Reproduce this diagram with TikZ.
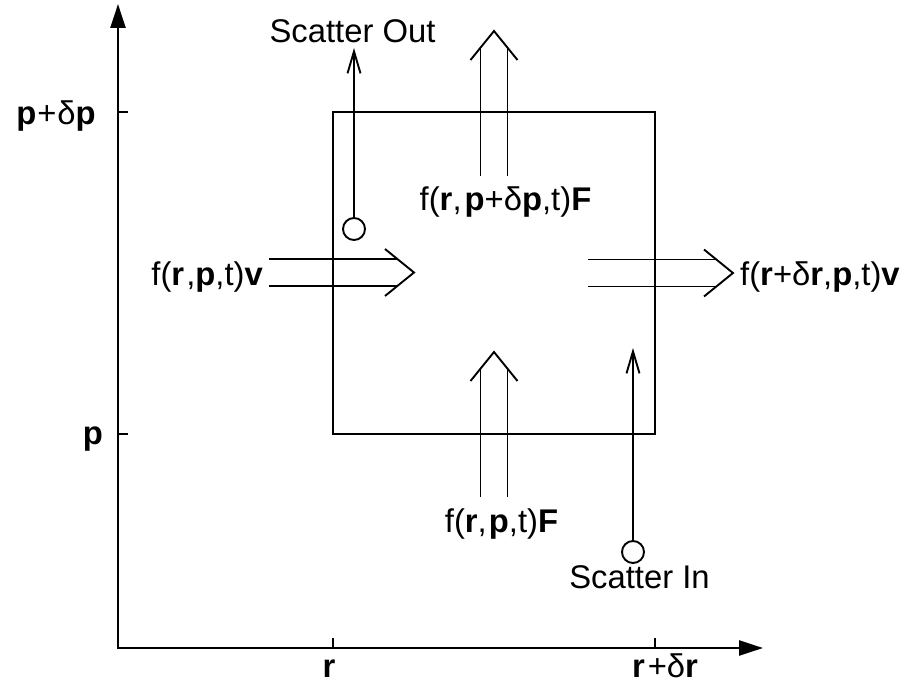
\documentclass[tikz,border=0pt]{standalone}
\usepackage{fontspec}
\setmainfont{Liberation Sans}
\usetikzlibrary{arrows.meta}
\begin{document}
\begin{tikzpicture}[x=1bp,y=-1bp,
  lbl/.style={inner sep=0pt, font=\fontsize{32.8bp}{39bp}\selectfont},
  ln/.style={line width=1.9bp},
  axline/.style={line width=2.4bp},
  tri/.tip={Triangle[length=24bp,width=15bp]},
  barb/.tip={Straight Barb[length=22bp,width=13bp]},
  dbl/.pic={
    \draw[ln] (-145,-13.5) -- (-16.7,-13.5);
    \draw[ln] (-145,13.5) -- (-16.7,13.5);
    \draw[ln, line join=miter] (-29,-23.5) -- (0,0) -- (-29,23.5);
  }]
\useasboundingbox (0,0) rectangle (916,686);
% axes
\coordinate (O) at (118,648);
\coordinate (ytip) at (118,4);
\coordinate (xtip) at (763,648);
\draw[axline, tri-tri] (ytip) -- (O) -- (xtip);
% ticks
\coordinate (tk1) at (118,112); \coordinate (tk1e) at (128,112);
\coordinate (tk2) at (118,434); \coordinate (tk2e) at (128,434);
\coordinate (tk3) at (333,648); \coordinate (tk3e) at (333,638);
\coordinate (tk4) at (655,648); \coordinate (tk4e) at (655,638);
\draw[ln] (tk1) -- (tk1e) (tk2) -- (tk2e) (tk3) -- (tk3e) (tk4) -- (tk4e);
% axis labels
\node[lbl, anchor=base] (lpdp) at (56,125) {{\bfseries p}\kern1bp+\kern1bpδ{\bfseries p}};
\node[lbl, anchor=base] (lp) at (93,444) {\bfseries p};
\node[lbl, anchor=base] (lr) at (329,677) {\bfseries r};
\node[lbl, anchor=base] (lrdr) at (665,677) {{\bfseries r}\kern3bp+δ{\bfseries r}};
% box
\node[draw, ln, minimum width=322bp, minimum height=322bp, inner sep=0pt] (box) at (494,273) {};
% double arrows
\pic (inL) at (414,272.5) {dbl};
\pic (outR) at (733,273) {dbl};
\pic[rotate=90] (outT) at (494,31) {dbl};
\pic[rotate=90] (inB) at (494,352) {dbl};
% flux labels
\node[lbl, anchor=base east] (fin) at (263,285) {f({\bfseries r}\kern2bp,{\bfseries p},t){\bfseries v}};
\node[lbl, anchor=base west] (fout) at (740,285) {f({\bfseries r}+δ{\bfseries r},{\bfseries p},t){\bfseries v}};
\node[lbl, anchor=base] (ftop) at (505.5,210) {f({\bfseries r},\kern3bp{\bfseries p}+δ{\bfseries p},t){\bfseries F}};
\node[lbl, anchor=base] (fbot) at (501.5,532) {f({\bfseries r},\kern2bp{\bfseries p},t){\bfseries F}};
% scatter
\node[circle, draw, ln, minimum size=22bp, inner sep=0pt] (cout) at (354,229) {};
\coordinate (tout) at (354,48);
\draw[ln, -barb] (cout.north) -- (tout);
\node[lbl, anchor=base] (sout) at (352.5,43) {Scatter Out};
\node[circle, draw, ln, minimum size=22bp, inner sep=0pt] (cin) at (633,552) {};
\coordinate (tin) at (633,348);
\draw[ln, -barb] (cin.north) -- (tin);
\node[lbl, anchor=base] (sin) at (639.5,588) {Scatter In};
\end{tikzpicture}
\end{document}
